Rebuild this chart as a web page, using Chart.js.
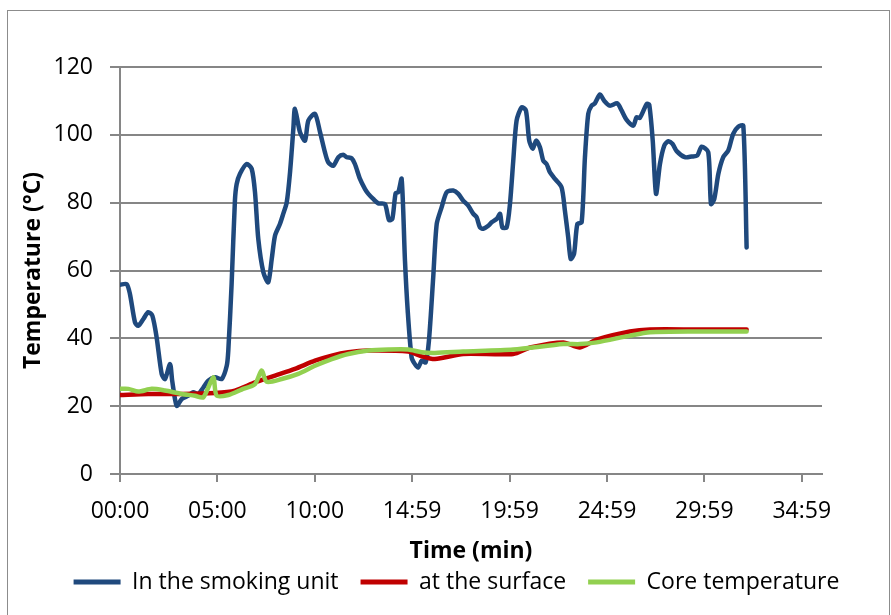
<!DOCTYPE html>
<html>
<head>
<meta charset="utf-8">
<script src="https://cdn.jsdelivr.net/npm/chart.js@4"></script>
<style>
html,body{margin:0;padding:0;background:#fff;}
#wrap{position:relative;width:891px;height:615px;}
#frame{position:absolute;left:7px;top:10px;width:883px;height:620px;border:1.5px solid #8c8c8c;box-sizing:border-box;pointer-events:none;}
</style>
</head>
<body>
<div id="wrap">
<canvas id="chart" width="891" height="615"></canvas>
<div id="frame"></div>
</div>
<script>
// time in minutes, temperature in °C
const smokeTime = [0,0.34,0.51,0.77,0.94,1.2,1.45,1.66,1.88,2.14,2.31,2.57,2.68,2.91,3.17,3.51,3.76,4.02,4.28,4.53,4.88,5.22,5.48,5.56,5.73,5.9,5.99,6.16,6.5,6.76,6.93,7.1,7.36,7.61,7.79,7.96,8.21,8.38,8.56,8.73,8.9,8.98,9.24,9.5,9.67,10.01,10.27,10.52,10.69,10.95,11.21,11.46,11.64,11.89,12.06,12.32,12.58,12.75,13,13.26,13.6,13.81,13.98,14.15,14.29,14.46,14.63,14.77,14.97,15.14,15.31,15.49,15.69,15.86,16.08,16.26,16.51,16.77,17.11,17.37,17.62,17.88,18.14,18.31,18.48,18.65,18.91,19.08,19.34,19.51,19.63,19.85,20.02,20.19,20.36,20.62,20.84,21.01,21.19,21.36,21.56,21.73,21.9,22.07,22.33,22.67,22.84,23.01,23.14,23.31,23.48,23.7,23.87,24.04,24.21,24.38,24.64,24.85,25.15,25.53,25.75,26.01,26.35,26.52,26.69,27.04,27.17,27.35,27.52,27.72,27.94,28.15,28.37,28.58,29,29.35,29.64,29.86,30.2,30.34,30.51,30.72,30.97,31.23,31.48,31.74,32,32.17];
const smokeTemp = [55.8,56,53.1,44.7,43.7,45.7,47.7,46.7,40.3,29.5,28,32.4,27.5,20.1,22.1,23.1,24.1,23.6,25.5,27.5,28.5,28,31.9,36.4,56,80.6,85.5,88.5,91.4,90,83.1,69.3,59.5,56.5,63.4,70.3,73.7,76.7,80.1,89,101.8,107.7,100.8,98.3,104.2,106.2,100.8,94.9,91.9,90.9,93.4,94.1,93.4,93.1,91.4,87,84,82.6,81.1,79.8,79.6,74.9,75.2,82.8,83.1,87,62.9,48.2,34.4,32.4,31.4,33.4,32.9,39.3,58,73.7,78.6,83.1,83.6,82.6,80.6,79.1,76.7,75.7,72.7,72.3,73.2,74.2,75.2,76.7,72.7,72.7,79.6,92.4,104.2,108.1,107.2,98.3,95.9,98.3,96.3,92.4,91.4,89,87,84.5,77.7,69.8,63.4,64.9,73.7,74.2,93.4,106.2,108.6,109.3,111.9,110.1,108.6,109.3,107.2,104.4,102.7,105.2,105,109.1,108.9,98.3,82.6,91.4,96.8,98.1,97.3,95.2,93.4,93.6,93.9,96.5,94.9,79.6,81.1,88.5,93.4,95.4,100.3,102.4,102.7,66.8];

const surfaceTime = [0,1.45,3.17,4.88,5.9,6.93,7.96,8.98,10.01,10.87,11.72,12.75,14.8,15.49,16.17,17.62,20.19,21.05,22.76,23.61,24.47,26.18,27.21,29.6,32.17];
const surfaceTemp = [23.3,23.6,23.6,23.9,24.6,27,29,31,33.4,34.9,35.9,36.4,36.1,34.7,33.9,35.4,35.4,37.3,38.8,37.3,39.6,42,42.6,42.6,42.6];

const coreTime = [0,0.43,0.94,1.63,2.31,3.17,3.85,4.28,4.79,4.96,5.56,6.24,6.93,7.27,7.53,8.3,9.15,10.01,10.87,11.72,12.75,13.78,14.8,15.49,16.17,17.62,20.19,22.76,23.61,24.47,26.18,27.21,29.6,32.17];
const coreTemp = [25.1,25.1,24.3,25.1,24.6,23.6,23.1,22.6,28.5,23.1,23.3,24.9,26.5,30.5,27.2,28,29.5,31.9,33.9,35.4,36.4,36.7,36.7,35.9,35.7,36.1,36.7,38.3,38.3,38.8,40.8,41.8,42,42];

const tickValues = [0,5,10,15,20,25,30,35];
const tickLabels = ["00:00","05:00","10:00","14:59","19:59","24:59","29:59","34:59"];
const seriesNames = ["In the smoking unit","at the surface","Core temperature"];
const seriesColors = ["#1F497D","#C00000","#92D050"];

const pts = (t,v)=>t.map((x,i)=>({x:x,y:v[i]}));
const FONT = "'Open Sans', sans-serif";
const GRID = "#868686";

// legend in the original sits a bit right of the plot centre
const shiftLegend = {id:"shiftLegend", afterLayout:ch=>{ch.legend.left += 40.5; ch.legend.right += 40.5;}};

let c = document.getElementById("chart").getContext("2d");
let chart = new Chart(c, {
    type:"line",
    data:{
        datasets:[
            {label:seriesNames[0], data:pts(smokeTime,smokeTemp)},
            {label:seriesNames[1], data:pts(surfaceTime,surfaceTemp)},
            {label:seriesNames[2], data:pts(coreTime,coreTemp)}
        ].map((d,i)=>Object.assign(d,{
            borderColor:seriesColors[i], backgroundColor:seriesColors[i],
            borderWidth:4.5, pointRadius:0, tension:0.25, fill:false,
            borderCapStyle:"round", borderJoinStyle:"round",
            order:2-i   // later series on top, like the original
        }))
    },
    plugins:[shiftLegend],
    options:{
        responsive:false, animation:false,
        layout:{padding:{left:10, top:67, right:69, bottom:11.5}},
        plugins:{
            tooltip:{enabled:false},
            legend:{
                position:"bottom",
                labels:{
                    font:{family:FONT, size:23}, color:"#000",
                    boxWidth:47, boxHeight:5, padding:22,
                    sort:(a,b)=>a.datasetIndex-b.datasetIndex,
                    generateLabels:ch=>Chart.defaults.plugins.legend.labels.generateLabels(ch).map(l=>Object.assign(l,{lineWidth:0}))
                }
            }
        },
        scales:{
            x:{
                type:"linear", min:0, max:36.04,
                afterBuildTicks:s=>{s.ticks = tickValues.map(v=>({value:v}));},
                afterFit:s=>{s.height = 74.5;},
                ticks:{font:{family:FONT, size:23}, color:"#000", padding:16, maxRotation:0, autoSkip:false,
                    callback:(v)=>tickLabels[tickValues.indexOf(v)]},
                grid:{drawOnChartArea:false, drawTicks:true, tickLength:8, color:GRID, lineWidth:2},
                border:{display:true, color:GRID, width:2},
                title:{display:true, text:"Time (min)", font:{family:FONT, size:23, weight:"bold"}, color:"#000", padding:{top:0,bottom:-16.3}}
            },
            y:{
                min:0, max:120,
                ticks:{stepSize:20, font:{family:FONT, size:23}, color:"#000", padding:17},
                afterFit:s=>{s.width = 110;},
                grid:{color:GRID, lineWidth:2, tickLength:10},
                border:{display:true, color:GRID, width:2},
                title:{display:true, text:"Temperature (°C)", font:{family:FONT, size:23, weight:"bold"}, color:"#000", padding:{top:10,bottom:0}}
            }
        }
    }
});
</script>
</body>
</html>
